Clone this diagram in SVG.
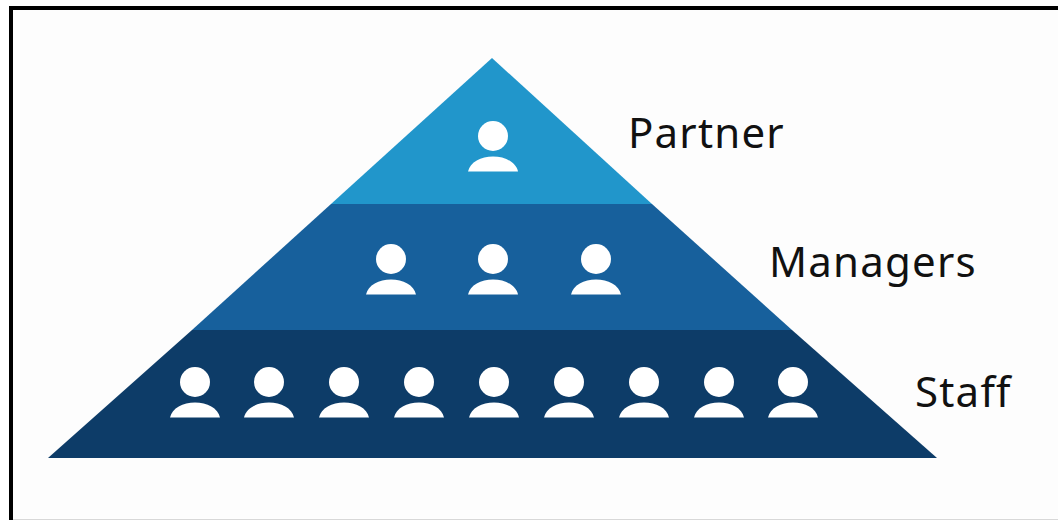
<svg xmlns="http://www.w3.org/2000/svg" width="1058" height="520" viewBox="0 0 1058 520">
<style>
.lbl{font-family:"Noto Sans","Open Sans",sans-serif;font-size:42px;letter-spacing:1.2px;fill:#111}
.p{fill:#fff}
</style>
<defs>
<g id="person"><circle cx="0" cy="0" r="15" class="p"/><path d="M-25 35.500C-23 26-12 20.500 0 20.500C12 20.500 23 26 25 35.500Z" class="p"/></g>
</defs>
<rect width="1058" height="520" fill="#fff"/>
<rect x="11" y="8" width="1060" height="510.500" fill="#fdfdfd" stroke="none"/>
<path d="M11 520V8H1058" fill="none" stroke="#000" stroke-width="4"/>
<path d="M13 519.500H1058" stroke="#d8d8d8" stroke-width="1"/>
<g id="partner">
<path d="M492 58L652 204H331Z" fill="#2196cb"/>
<use href="#person" x="493" y="136"/>
<text class="lbl" x="628" y="148">Partner</text>
</g>
<g id="managers">
<path d="M331 204H652L792 330H192Z" fill="#17609c"/>
<use href="#person" x="391" y="259"/><use href="#person" x="493" y="259"/><use href="#person" x="596" y="259"/>
<text class="lbl" x="769" y="277">Managers</text>
</g>
<g id="staff">
<path d="M192 330H792L937 458H48Z" fill="#0d3c68"/>
<use href="#person" x="195" y="382"/><use href="#person" x="269" y="382"/><use href="#person" x="344" y="382"/><use href="#person" x="419" y="382"/><use href="#person" x="494" y="382"/><use href="#person" x="569" y="382"/><use href="#person" x="644" y="382"/><use href="#person" x="719" y="382"/><use href="#person" x="793" y="382"/>
<text class="lbl" x="915" y="407">Staff</text>
</g>
<g id="connectors"/>
</svg>
